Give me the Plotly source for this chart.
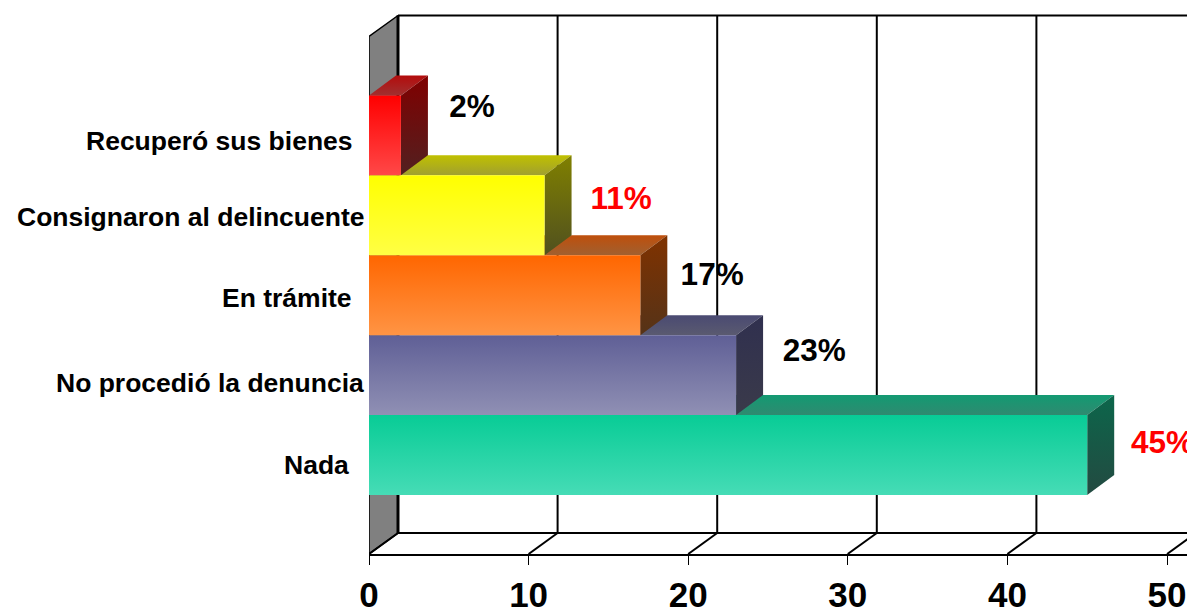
import plotly.graph_objects as go

# ---- data ----
categories = ["Nada", "No procedió la denuncia", "En trámite",
              "Consignaron al delincuente", "Recuperó sus bienes"]
values = [45, 23, 17, 11, 2]
labels = ["45%", "23%", "17%", "11%", "2%"]
label_colors = ["#ff0000", "#000000", "#000000", "#ff0000", "#000000"]
x_ticks = [0, 10, 20, 30, 40, 50]

# ---- styling ----
front_colors = [("#08cc96", "#46dcb6"), ("#5f5f96", "#9090b4"), ("#ff6600", "#ff9444"),
                ("#ffff00", "#ffff44"), ("#ff0000", "#ff4848")]
side_colors = [("#0c664b", "#234a41"), ("#30304f", "#3a3a4a"), ("#803200", "#553318"),
               ("#808000", "#50501f"), ("#800000", "#522020")]
top_colors = [("#139a72", "#2f8a70"), ("#4a4a72", "#5a5a70"), ("#bf4f0c", "#a06030"),
              ("#c0c000", "#a0a030"), ("#b40c0c", "#a03030")]
label_dx = [4.72, 4.9, 4.5, 4.8, 4.45]
label_dy = [0.128, 0.27, 0.23, 0.175, 0.33]
cat_shift = [-18, -3, -15, -2, -14]
cat_dy = [-0.125, -0.10, -0.035, -0.02, -0.07]

PX_X = 15.96
PX_Y = 79.9
X_MAX = (1187 - 369) / PX_X
Y_BOTTOM = -99 / PX_Y
Y_TOP = 455 / PX_Y
FLOOR = -99 / PX_Y
WALL_TOP = 418.5 / PX_Y
WALL_DX = 29 / PX_X
WALL_DY = 21 / PX_Y
BAR_DX = 27 / PX_X
BAR_DY = 20 / PX_Y
HALF = 0.5

fig = go.Figure()


def line(xs, ys, width=2.0, color="#000000"):
    fig.add_trace(go.Scatter(x=xs, y=ys, mode="lines", hoverinfo="skip", showlegend=False,
                             line=dict(color=color, width=width)))


def face(xs, ys, colors):
    # colors: (top colour, bottom colour)
    fig.add_trace(go.Scatter(x=xs, y=ys, mode="lines", fill="toself", hoverinfo="skip",
                             showlegend=False, line=dict(width=0),
                             fillgradient=dict(type="vertical",
                                               colorscale=[[0, colors[1]], [1, colors[0]]])))


# left wall, back wall, floor
fig.add_trace(go.Scatter(x=[0, 0, WALL_DX, WALL_DX, 0],
                         y=[FLOOR, WALL_TOP, WALL_TOP + WALL_DY, FLOOR + WALL_DY, FLOOR],
                         mode="lines", fill="toself", fillcolor="#808080", hoverinfo="skip",
                         showlegend=False, line=dict(color="#000000", width=1.5)))
line([WALL_DX, X_MAX], [WALL_TOP + WALL_DY] * 2, 2)
line([WALL_DX, X_MAX], [FLOOR + WALL_DY] * 2, 2)
for t in x_ticks:
    line([t + WALL_DX] * 2, [FLOOR + WALL_DY, WALL_TOP + WALL_DY], 3 if t == 0 else 2)
    line([t, t + WALL_DX], [FLOOR, FLOOR + WALL_DY], 2)

# bars: lowest category first, so that each bar sits over the one below
for i, v in enumerate(values):
    lo, hi = i - HALF, i + HALF
    face([0, BAR_DX, v + BAR_DX, v, 0], [hi, hi + BAR_DY, hi + BAR_DY, hi, hi], top_colors[i])
    face([v, v + BAR_DX, v + BAR_DX, v, v], [lo, lo + BAR_DY, hi + BAR_DY, hi, lo], side_colors[i])
    face([0, v, v, 0, 0], [lo, lo, hi, hi, lo], front_colors[i])

# value labels
fig.add_trace(go.Scatter(
    x=[v + d for v, d in zip(values, label_dx)],
    y=[i + d for i, d in enumerate(label_dy)],
    mode="text", text=labels, textposition="middle center", hoverinfo="skip", showlegend=False,
    textfont=dict(family="Liberation Sans", size=31.5, color=label_colors, weight="bold")))

# category labels
annotations = [dict(x=0, y=i + cat_dy[i], xref="x", yref="y", text=f"<b>{c}</b>", showarrow=False,
                    xanchor="right", yanchor="middle", xshift=cat_shift[i],
                    font=dict(family="Liberation Sans", size=26.5, color="#000000"))
               for i, c in enumerate(categories)]

fig.update_layout(
    width=1187, height=609, margin=dict(l=369, r=0, t=0, b=55),
    paper_bgcolor="#ffffff", plot_bgcolor="#ffffff", showlegend=False,
    annotations=annotations,
    xaxis=dict(range=[0, X_MAX], tickvals=x_ticks, ticks="outside", ticklen=9, tickwidth=1,
               tickcolor="#000000", showgrid=False, zeroline=False, showline=True,
               linecolor="#000000", linewidth=2, automargin=False,
               tickfont=dict(family="Liberation Sans", size=35, color="#000000", weight="bold")),
    yaxis=dict(range=[Y_BOTTOM, Y_TOP], showgrid=False, zeroline=False, showticklabels=False,
               ticks="", showline=False, automargin=False),
)
fig.write_html("out.html", config=dict(displayModeBar=False),
               post_script="document.body.style.margin='0';document.body.style.overflow='hidden';")
